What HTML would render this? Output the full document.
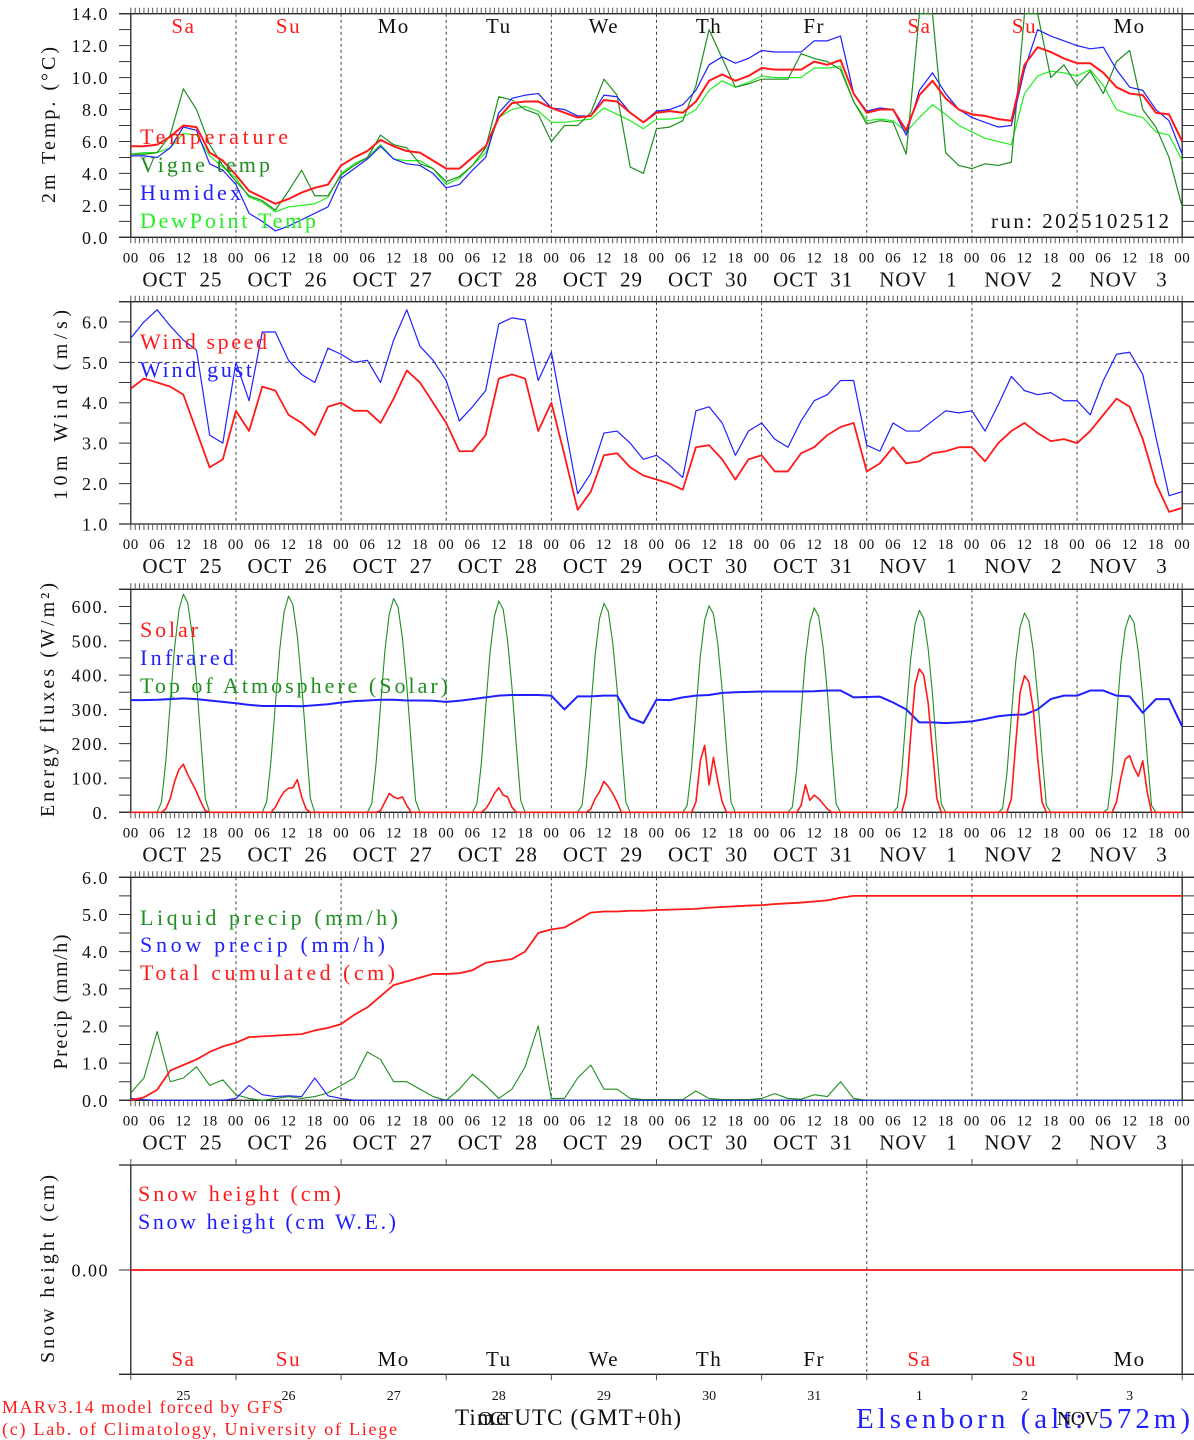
<!DOCTYPE html>
<html><head><meta charset="utf-8"><title>MAR forecast Elsenborn</title>
<style>
html,body{margin:0;padding:0;background:#fff;}
svg{display:block;font-family:"Liberation Serif",serif;}
</style></head>
<body>
<svg id="chart" xmlns="http://www.w3.org/2000/svg" width="1194" height="1440" viewBox="0 0 1194 1440"></svg>
<script>
// ---------- DATA (3-hourly, 81 points from OCT 25 00 to NOV 4 00) ----------
const dayNames = ["Sa","Su","Mo","Tu","We","Th","Fr","Sa","Su","Mo"];
const dateLabels = ["OCT  25","OCT  26","OCT  27","OCT  28","OCT  29","OCT  30","OCT  31","NOV   1","NOV   2","NOV   3"];
const dayNumbers = ["25","26","27","28","29","30","31","1","2","3"];
const hourLabels = ["00","06","12","18"];

const temperature = [5.7,5.7,5.8,6.3,7.0,6.9,5.3,4.8, 3.9,2.9,2.5,2.1,2.4,2.8,3.1,3.3, 4.5,5.0,5.4,6.1,5.7,5.4,5.3,4.8, 4.3,4.3,5.0,5.7,7.5,8.4,8.5,8.5, 8.1,7.8,7.5,7.6,8.6,8.5,7.8,7.2, 7.8,7.9,7.8,8.5,9.8,10.2,9.8,10.1, 10.6,10.5,10.5,10.5,11.0,10.8,11.1,9.0, 7.8,8.0,8.0,6.7,8.9,9.8,8.7,8.0, 7.7,7.6,7.4,7.3,10.8,11.9,11.6,11.2, 10.9,10.9,10.3,9.4,9.0,8.9,7.8,7.7,6.0];
const vigneTemp = [5.2,5.2,5.3,6.4,9.3,8.0,5.8,4.5, 3.5,2.6,2.3,1.7,2.9,4.2,2.6,2.6, 3.9,4.5,5.0,6.4,5.8,5.6,4.6,4.3, 3.5,3.8,4.5,5.6,8.8,8.6,8.0,7.7, 6.0,7.0,7.0,7.8,9.9,8.9,4.4,4.0, 6.8,6.9,7.3,9.5,13.0,11.2,9.4,9.6, 9.9,9.9,9.9,11.5,11.2,11.0,10.5,8.5, 7.1,7.3,7.2,5.2,14.0,14.0,5.3,4.5, 4.3,4.6,4.5,4.7,14.0,14.0,10.0,10.8, 9.5,10.4,9.0,11.0,11.7,8.0,6.9,5.0,1.9];
const humidex = [5.1,5.1,5.0,5.6,6.9,6.7,4.6,4.2, 3.3,1.5,1.0,0.4,0.7,1.1,1.5,1.9, 3.7,4.3,4.9,5.7,4.9,4.6,4.5,4.0, 3.1,3.3,4.2,5.0,7.8,8.7,8.9,9.0, 8.1,8.0,7.6,7.6,8.9,8.8,7.8,7.2, 7.9,8.0,8.3,9.2,10.8,11.3,10.9,11.2, 11.7,11.6,11.6,11.6,12.3,12.3,12.6,9.0, 7.9,8.1,8.0,6.4,9.2,10.3,9.0,8.0, 7.5,7.2,6.9,7.0,10.5,13.0,12.6,12.3, 12.0,11.8,11.9,10.5,9.4,9.2,8.0,7.3,5.2];
const dewPoint = [5.2,5.3,5.3,5.6,6.5,6.4,5.1,4.4, 3.7,2.5,2.2,1.6,1.9,2.0,2.1,2.5, 4.0,4.6,5.0,5.8,4.9,4.8,4.8,4.3, 3.3,3.7,4.5,5.3,7.5,8.0,8.2,7.9, 7.2,7.2,7.3,7.4,8.1,7.7,7.3,6.8, 7.4,7.4,7.5,8.0,9.2,9.8,9.4,9.7, 10.1,10.0,10.0,10.0,10.6,10.6,10.7,8.5, 7.3,7.4,7.3,6.6,7.5,8.3,7.7,7.0, 6.6,6.2,6.0,5.8,9.0,10.1,10.4,10.3, 10.1,10.5,9.5,8.0,7.7,7.5,6.6,6.4,4.8];

const windSpeed = [4.35,4.6,4.5,4.4,4.2,3.3,2.4,2.6, 3.8,3.3,4.4,4.3,3.7,3.5,3.2,3.9, 4.0,3.8,3.8,3.5,4.1,4.8,4.5,4.0, 3.5,2.8,2.8,3.2,4.6,4.7,4.6,3.3, 4.0,2.7,1.35,1.8,2.7,2.75,2.4,2.2, 2.1,2.0,1.85,2.9,2.95,2.6,2.1,2.6, 2.7,2.3,2.3,2.75,2.9,3.2,3.4,3.5, 2.3,2.5,2.9,2.5,2.55,2.75,2.8,2.9, 2.9,2.55,3.0,3.3,3.5,3.25,3.05,3.1, 3.0,3.3,3.7,4.1,3.9,3.1,2.0,1.3,1.4];
const windGust = [5.6,6.0,6.3,5.9,5.55,5.3,3.2,3.0, 5.0,4.05,5.75,5.75,5.05,4.7,4.5,5.35, 5.2,5.0,5.05,4.5,5.55,6.3,5.4,5.05, 4.55,3.55,3.9,4.3,5.95,6.1,6.05,4.55, 5.25,3.5,1.75,2.25,3.25,3.3,3.0,2.6, 2.7,2.45,2.15,3.8,3.9,3.5,2.7,3.3, 3.5,3.1,2.9,3.55,4.05,4.2,4.55,4.55, 2.95,2.8,3.5,3.3,3.3,3.55,3.8,3.75, 3.8,3.3,3.95,4.65,4.3,4.2,4.25,4.05, 4.05,3.7,4.55,5.2,5.25,4.7,3.15,1.7,1.8];

const infrared = [327,327,328,330,332,330,326,322, 318,313,310,310,310,309,312,315, 320,324,326,328,328,326,326,325, 322,325,330,335,340,342,342,342, 340,300,338,338,340,340,275,260, 328,327,335,340,342,348,350,351, 352,352,352,352,353,355,355,335, 336,337,320,300,262,262,260,262, 265,272,280,284,285,300,330,340, 340,355,355,340,338,290,330,330,250];

// hourly solar & top-of-atmosphere (one row per day, 24 values)
const solarByDay = [
 [0,0,0,0,0,0,0,0,10,40,90,125,140,110,85,60,30,5,0,0,0,0,0,0],
 [0,0,0,0,0,0,0,0,0,15,40,60,70,72,95,45,10,0,0,0,0,0,0,0],
 [0,0,0,0,0,0,0,0,0,5,30,55,45,40,45,20,0,0,0,0,0,0,0,0],
 [0,0,0,0,0,0,0,0,0,10,30,55,72,50,45,15,0,0,0,0,0,0,0,0],
 [0,0,0,0,0,0,0,0,0,10,40,60,90,75,55,30,0,0,0,0,0,0,0,0],
 [0,0,0,0,0,0,0,0,0,30,150,195,80,160,90,30,0,0,0,0,0,0,0,0],
 [0,0,0,0,0,0,0,0,0,20,80,35,50,40,25,10,0,0,0,0,0,0,0,0],
 [0,0,0,0,0,0,0,0,0,50,220,370,418,400,320,180,40,0,0,0,0,0,0,0],
 [0,0,0,0,0,0,0,0,0,40,200,350,398,380,300,160,30,0,0,0,0,0,0,0],
 [0,0,0,0,0,0,0,0,0,30,100,155,165,130,105,150,60,0,0,0,0,0,0,0]
];
const toaByDay = [
 [0,0,0,0,0,0,0,30,150,320,480,590,636,610,520,380,210,40,0,0,0,0,0,0],
 [0,0,0,0,0,0,0,30,150,315,475,585,630,605,515,375,205,40,0,0,0,0,0,0],
 [0,0,0,0,0,0,0,25,145,310,470,578,623,598,508,370,200,35,0,0,0,0,0,0],
 [0,0,0,0,0,0,0,25,140,305,465,572,616,592,502,365,195,35,0,0,0,0,0,0],
 [0,0,0,0,0,0,0,20,135,300,460,565,609,585,495,360,190,30,0,0,0,0,0,0],
 [0,0,0,0,0,0,0,20,130,295,455,560,602,578,490,355,185,30,0,0,0,0,0,0],
 [0,0,0,0,0,0,0,15,125,290,450,553,596,572,485,350,180,25,0,0,0,0,0,0],
 [0,0,0,0,0,0,0,15,120,285,445,547,589,565,478,345,175,25,0,0,0,0,0,0],
 [0,0,0,0,0,0,0,10,115,280,440,540,581,558,472,340,170,20,0,0,0,0,0,0],
 [0,0,0,0,0,0,0,10,110,275,435,535,575,552,466,335,165,20,0,0,0,0,0,0]
];

const liquidPrecip = [0.2,0.6,1.85,0.5,0.6,0.9,0.4,0.55, 0.15,0.05,0.0,0.05,0.1,0.05,0.1,0.2, 0.4,0.6,1.3,1.1,0.5,0.5,0.3,0.1, 0.0,0.3,0.7,0.4,0.05,0.3,0.9,2.0, 0.05,0.05,0.6,0.95,0.3,0.3,0.05,0.02, 0.02,0.02,0.02,0.25,0.05,0.02,0.02,0.02, 0.05,0.18,0.05,0.03,0.15,0.1,0.5,0.05, 0,0,0,0,0,0,0,0, 0,0,0,0,0,0,0,0, 0,0,0,0,0,0,0,0,0];
const snowPrecip = [0.05,0.02,0,0,0,0,0,0, 0.05,0.4,0.15,0.1,0.12,0.1,0.6,0.12, 0.05,0,0,0,0,0,0,0, 0,0,0,0,0,0,0,0, 0,0,0,0,0,0,0,0, 0,0,0,0,0,0,0,0, 0,0,0,0,0,0,0,0, 0,0,0,0,0,0,0,0, 0,0,0,0,0,0,0,0, 0,0,0,0,0,0,0,0,0];
const totalCumulated = [0,0.08,0.28,0.8,0.95,1.1,1.3,1.45, 1.55,1.7,1.72,1.74,1.76,1.78,1.88,1.95, 2.05,2.3,2.5,2.8,3.1,3.2,3.3,3.4, 3.4,3.42,3.5,3.7,3.75,3.8,4.0,4.5, 4.6,4.65,4.85,5.05,5.08,5.08,5.1,5.1, 5.12,5.13,5.14,5.15,5.18,5.2,5.22,5.24, 5.25,5.28,5.3,5.32,5.35,5.38,5.45,5.5, 5.5,5.5,5.5,5.5,5.5,5.5,5.5,5.5, 5.5,5.5,5.5,5.5,5.5,5.5,5.5,5.5, 5.5,5.5,5.5,5.5,5.5,5.5,5.5,5.5,5.5];
const snowHeight = [0,0];
const snowHeightWE = [0,0];

// ---------- DRAWING ----------
const NS = "http://www.w3.org/2000/svg";
const svg = document.getElementById("chart");
const X0 = 130.8, X1 = 1182.2, NH = 240;
function xh(h){ return X0 + h*(X1-X0)/NH; }
function mk(tag, attrs, parent){
  const e = document.createElementNS(NS, tag);
  for (const k in attrs) e.setAttribute(k, attrs[k]);
  (parent||svg).appendChild(e);
  return e;
}
const RED="#ff1a1a", BLUE="#2020ff", DGREEN="#1f8f1f", LGREEN="#22ee22", GRAY="#444";

const panels = [
  {key:"temp", top:13.7, bot:237.3, min:0, max:14, tickStep:1, labStep:2, fmt:v=>v.toFixed(1), title:"2m Temp. (°C)", tcx:48, tcy:125, tlen:156, hours:true},
  {key:"wind", top:301.7, bot:524, min:1, max:6.5, tickStep:0.5, labStep:1, fmt:v=>v.toFixed(1), title:"10m Wind (m/s)", tcx:60, tcy:405, tlen:190, hours:true},
  {key:"flux", top:589.3, bot:812.3, min:0, max:650, tickStep:50, labStep:100, fmt:v=>v.toFixed(0)+".", title:"Energy fluxes (W/m²)", tcx:47, tcy:700, tlen:234, hours:true},
  {key:"precip", top:877.3, bot:1100.3, min:0, max:6, tickStep:0.5, labStep:1, fmt:v=>v.toFixed(1), title:"Precip (mm/h)", tcx:60, tcy:1002, tlen:135, hours:true},
  {key:"snow", top:1165, bot:1374.3, min:-1, max:1.007, tickStep:null, labStep:null, fmt:v=>v.toFixed(2), title:"Snow height (cm)", tcx:47, tcy:1269, tlen:188, hours:false}
];
panels.forEach(p=>{ p.y = v => p.bot - (v-p.min)*(p.bot-p.top)/(p.max-p.min); });

function lineFromSeries(p, values, stepHours, color, width, name){
  const pts = values.map((v,i)=> xh(i*stepHours).toFixed(2)+","+Math.max(p.top, Math.min(p.bot, p.y(v))).toFixed(2)).join(" ");
  const pl = mk("polyline",{points:pts, fill:"none", stroke:color, "stroke-width":width, "stroke-linejoin":"round"});
  
  
  return pl;
}
function txt(str, attrs, name){
  const t = mk("text", attrs);
  t.textContent = str;
  
  
  return t;
}

panels.forEach((p,pi)=>{
  const g = mk("g",{});
  
  
  const fr = mk("path",{d:`M119,${p.top}H1194M119,${p.bot}H1194M${X0},${p.top}V${p.bot}M${X1},${p.top}V${p.bot}`, stroke:"#222", "stroke-width":1.3, fill:"none"}, g);
  
  
  let d="";
  if (p.hours){
    for(let h=0;h<=NH;h++){ const x=xh(h).toFixed(2); d+=`M${x},${p.top}V${p.top-6}M${x},${p.bot}V${p.bot+6}`; }
  } else {
    for(let k=0;k<=10;k++){ const x=xh(k*24).toFixed(2); d+=`M${x},${p.top}V${p.top-6}M${x},${p.bot}V${p.bot+6}`; }
  }
  const tk = mk("path",{d:d, stroke:"#555", "stroke-width":1, fill:"none"}, g);
  
  
  let dd="";
  for(let k=1;k<10;k++){ if(p.key==="snow" && k!==7) continue; const x=xh(k*24).toFixed(2); dd+=`M${x},${p.top}V${p.bot}`; }
  const ds = mk("path",{d:dd, stroke:GRAY, "stroke-width":1, "stroke-dasharray":"3,3", fill:"none"}, g);
  
  
  let yd="";
  if (p.tickStep){
    for(let v=p.min; v<=p.max+1e-6; v+=p.tickStep){ const y=p.y(v).toFixed(2); yd+=`M119,${y}H${X0}M${X1},${y}H1194`; }
    for(let v=p.min; v<=p.max+1e-6; v+=p.labStep){
      txt(p.fmt(v), {x:109, y:(p.y(v)+6.5).toFixed(1), "font-size":18, "text-anchor":"end", "letter-spacing":1.5, fill:"#111"}, p.key+'-y-tick-label');
    }
  } else {
    const y=p.y(0).toFixed(2); yd+=`M119,${y}H${X0}M${X1},${y}H1194`;
    txt("0.00", {x:109, y:(p.y(0)+6.5).toFixed(1), "font-size":18, "text-anchor":"end", "letter-spacing":1.5, fill:"#111"}, 'snow-y-tick-label');
  }
  const yt = mk("path",{d:yd, stroke:"#333", "stroke-width":1, fill:"none"}, g);
  
  
  txt(p.title, {x:p.tcx, y:p.tcy+7, "font-size":20, "text-anchor":"middle", textLength:p.tlen, lengthAdjust:"spacing", transform:`rotate(-90 ${p.tcx} ${p.tcy})`, fill:"#111"}, p.key+'-y-axis-title');
  if (p.hours){
    for(let k=0;k<=10;k++){
      for(let j=0;j<4;j++){
        if(k===10 && j>0) continue;
        txt(hourLabels[j], {x:xh(k*24+j*6).toFixed(1), y:p.bot+25, "font-size":15, "text-anchor":"middle", "letter-spacing":0.5, fill:"#111"}, p.key+'-hour-label');
      }
    }
    for(let k=0;k<10;k++){
      txt(dateLabels[k], {x:(xh(k*24+12)-1).toFixed(1), y:p.bot+49, "font-size":21, "text-anchor":"middle", "letter-spacing":1, style:"white-space:pre", fill:"#111"}, p.key+'-date-label');
    }
  }
});

for(let k=0;k<10;k++){
  const col = (dayNames[k]==="Sa"||dayNames[k]==="Su") ? RED : "#111";
  txt(dayNames[k], {x:xh(k*24+12).toFixed(1), y:33, "font-size":21, "text-anchor":"middle", "letter-spacing":1.5, fill:col}, 'weekday-label-top');
  txt(dayNames[k], {x:xh(k*24+12).toFixed(1), y:1366, "font-size":21, "text-anchor":"middle", "letter-spacing":1.5, fill:col}, 'weekday-label-bottom');
  txt(dayNumbers[k], {x:xh(k*24+12).toFixed(1), y:1400, "font-size":14, "text-anchor":"middle", fill:"#111"}, 'day-number-label');
}

const pw = panels[1];
const ref = mk("line",{x1:X0, x2:X1, y1:pw.y(5), y2:pw.y(5), stroke:GRAY, "stroke-dasharray":"4,3", "stroke-width":1});



const P1=panels[0], P2=panels[1], P3=panels[2], P4=panels[3], P5=panels[4];
lineFromSeries(P1, dewPoint, 3, LGREEN, 1.2, 'dewpoint-line');
lineFromSeries(P1, vigneTemp, 3, DGREEN, 1.2, 'vigne-temp-line');
lineFromSeries(P1, humidex, 3, BLUE, 1.2, 'humidex-line');
lineFromSeries(P1, temperature, 3, RED, 2, 'temperature-line');

lineFromSeries(P2, windGust, 3, BLUE, 1.2, 'wind-gust-line');
lineFromSeries(P2, windSpeed, 3, RED, 1.8, 'wind-speed-line');

const toaHourly = toaByDay.flat().concat([0]);
const solarHourly = solarByDay.flat().concat([0]);
lineFromSeries(P3, toaHourly, 1, DGREEN, 1.1, 'toa-solar-line');
lineFromSeries(P3, infrared, 3, BLUE, 2, 'infrared-line');
lineFromSeries(P3, solarHourly, 1, RED, 1.6, 'solar-line');

lineFromSeries(P4, liquidPrecip, 3, DGREEN, 1.1, 'liquid-precip-line');
lineFromSeries(P4, snowPrecip, 3, BLUE, 1.1, 'snow-precip-line');
lineFromSeries(P4, totalCumulated, 3, RED, 1.8, 'total-cumulated-line');

lineFromSeries(P5, snowHeightWE, 240, BLUE, 1.2, 'snow-height-we-line');
lineFromSeries(P5, snowHeight, 240, RED, 1.8, 'snow-height-line');

function legend(str, x, y, col, len, name){ txt(str, {x:x, y:y, "font-size":22, fill:col, textLength:len, lengthAdjust:"spacing"}, name); }
legend("Temperature",140,144,RED,148,'legend-temperature');
legend("Vigne temp",140,172,DGREEN,130,'legend-vigne-temp');
legend("Humidex",140,200,BLUE,101,'legend-humidex');
legend("DewPoint Temp",140,228,LGREEN,176,'legend-dewpoint');
legend("Wind speed",140,349,RED,127,'legend-wind-speed');
legend("Wind gust",140,377,BLUE,112,'legend-wind-gust');
legend("Solar",140,637,RED,58,'legend-solar');
legend("Infrared",140,665,BLUE,94,'legend-infrared');
legend("Top of Atmosphere (Solar)",140,693,DGREEN,308,'legend-toa');
legend("Liquid precip (mm/h)",140,925,DGREEN,258,'legend-liquid-precip');
legend("Snow precip (mm/h)",140,952,BLUE,245,'legend-snow-precip');
legend("Total cumulated (cm)",140,980,RED,255,'legend-total-cumulated');
legend("Snow height (cm)",138,1201,RED,203,'legend-snow-height');
legend("Snow height (cm W.E.)",138,1229,BLUE,258,'legend-snow-height-we');

txt("run: 2025102512", {x:991, y:228, "font-size":21, fill:"#111", textLength:178, lengthAdjust:"spacing"}, 'run-label');

txt("MARv3.14 model forced by GFS", {x:2, y:1413, "font-size":18, fill:RED, textLength:281, lengthAdjust:"spacing"}, 'model-credit');
txt("(c) Lab. of Climatology, University of Liege", {x:2, y:1435, "font-size":18, fill:RED, textLength:395, lengthAdjust:"spacing"}, 'lab-credit');
txt("Time UTC (GMT+0h)", {x:455, y:1425, "font-size":23, fill:"#111", textLength:226, lengthAdjust:"spacing"}, 'x-axis-title');
txt("OCT", {x:478, y:1425, "font-size":20, fill:"#111", textLength:35, lengthAdjust:"spacing"}, 'month-label-oct');
txt("Elsenborn (alt: 572m)", {x:856, y:1428, "font-size":29, fill:BLUE, textLength:334, lengthAdjust:"spacing"}, 'station-title');
txt("NOV", {x:1057, y:1425, "font-size":20, fill:"#111", textLength:42, lengthAdjust:"spacing"}, 'month-label-nov');
</script>
</body></html>
